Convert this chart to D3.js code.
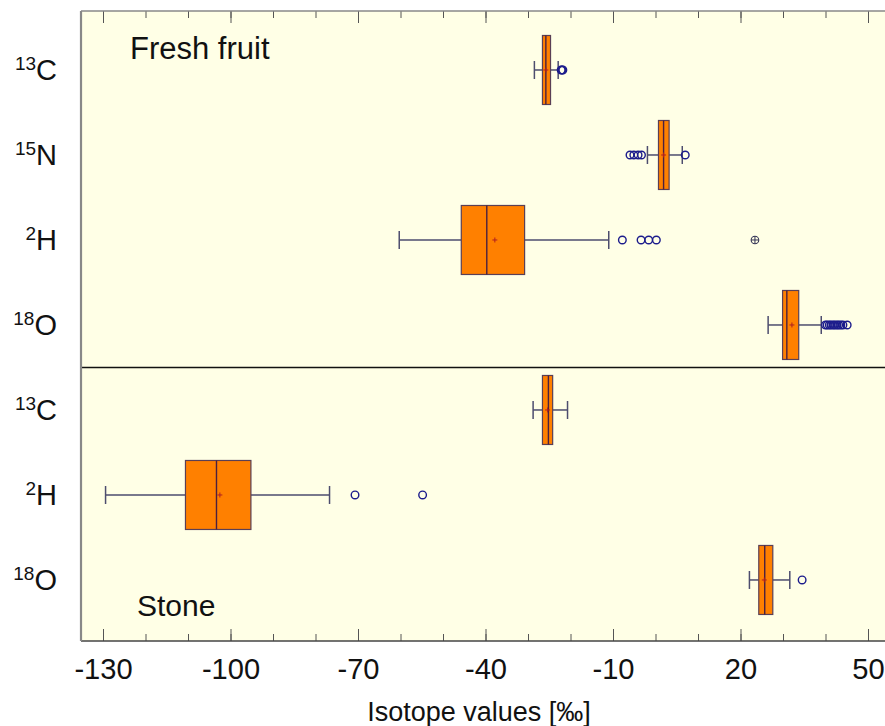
<!DOCTYPE html>
<html><head><meta charset="utf-8">
<script src="https://cdn.jsdelivr.net/npm/d3@7"></script>
<style>
html,body{margin:0;padding:0;background:#fff;}
svg{display:block;font-family:"Liberation Sans",Arial,sans-serif;}
</style></head>
<body>
<svg id="chart" width="885" height="726"></svg>
<script>
// ---- data ----
const rowSup   = ["13","15","2","18","13","2","18"];
const rowMain  = ["C","N","H","O","C","H","O"];
const whiskerLow  = [-28.5, -1.9, -60.3, 26.5, -28.8, -129.4, 22.1];
const q1          = [-26.6,  0.7, -45.7, 29.9, -26.6, -110.6, 24.3];
const median      = [-25.8,  1.9, -39.7, 30.9, -25.2, -103.3, 25.7];
const q3          = [-24.7,  3.2, -30.8, 33.7, -24.2,  -95.2, 27.6];
const whiskerHigh = [-22.9,  6.3, -11.0, 39.0, -20.7,  -76.7, 31.6];
const means       = [-25.8,  1.9, -37.8, 32.1, -25.4, -102.5, 25.6];
const outliers = [
  [-22.2, -22.0, -21.8],
  [-6.0, -5.1, -4.1, -3.3, 7.0],
  [-7.8, -3.4, -1.6, 0.2],
  [40.0, 40.4, 40.9, 41.3, 41.8, 42.2, 42.7, 43.1, 43.6, 44.1, 45.1],
  [],
  [-70.7, -54.8],
  [34.5]
];
const extremes = [[], [], [23.4], [], [], [], []];
const xTicks = [-130, -100, -70, -40, -10, 20, 50];
const xMinorTicks = [-130,-120,-110,-100,-90,-80,-70,-60,-50,-40,-30,-20,-10,0,10,20,30,40,50];
const sectionLabels = ["Fresh fruit", "Stone"];
const xTitle = "Isotope values [‰]";

// ---- layout ----
const L = 81, R = 885, T = 11, B = 641;
const svg = d3.select("#chart");
const x = d3.scaleLinear().domain([-135.18, 54.0]).range([L, R]);
const y = d3.scaleLinear().domain([-0.694, 6.718]).range([T, B]);
const boxH = 69, capH = 18;

svg.append("rect").attr("x", L).attr("y", T).attr("width", R - L).attr("height", B - T)
  .attr("fill", "#ffffe6");

// divider between sections
svg.append("line").attr("x1", L).attr("x2", R).attr("y1", y(3.5)).attr("y2", y(3.5))
  .attr("stroke", "#111").attr("stroke-width", 1.5);

// axes
const minorB = svg.append("g").attr("transform", `translate(0,${B})`)
  .call(d3.axisBottom(x).tickValues(xMinorTicks).tickSize(-7).tickFormat(""));
const majorB = svg.append("g").attr("transform", `translate(0,${B})`)
  .call(d3.axisBottom(x).tickValues(xTicks).tickSize(-12).tickPadding(16).tickFormat(d3.format("d")));
const minorT = svg.append("g").attr("transform", `translate(0,${T})`)
  .call(d3.axisTop(x).tickValues(xMinorTicks).tickSize(-7).tickFormat(""));
const majorT = svg.append("g").attr("transform", `translate(0,${T})`)
  .call(d3.axisTop(x).tickValues(xTicks).tickSize(-12).tickFormat(""));
[minorB, majorB, minorT, majorT].forEach(g => {
  g.select(".domain").remove();
  g.selectAll(".tick line").attr("stroke", "#555").attr("stroke-width", 1);
});
majorB.selectAll(".tick text").attr("font-size", 28).attr("fill", "#111")
  .attr("font-family", "'Liberation Sans', Arial, sans-serif")
  .attr("transform", "scale(1.04,1.05)")
  .text(d => d < 0 ? "-" + Math.abs(d) : d);

// borders
svg.append("line").attr("x1", L).attr("x2", R).attr("y1", B).attr("y2", B)
  .attr("stroke", "#444").attr("stroke-width", 1.5);
svg.append("line").attr("x1", L).attr("x2", R).attr("y1", T).attr("y2", T)
  .attr("stroke", "#888").attr("stroke-width", 1.5);
svg.append("line").attr("x1", L).attr("x2", L).attr("y1", T).attr("y2", B)
  .attr("stroke", "#888").attr("stroke-width", 2.2);

// boxes
const idx = d3.range(rowMain.length);
const g = svg.append("g");
idx.forEach(i => {
  const cy = y(i);
  const wc = "#4d4d6e";
  g.append("line").attr("x1", x(whiskerLow[i])).attr("x2", x(q1[i])).attr("y1", cy).attr("y2", cy)
    .attr("stroke", wc).attr("stroke-width", 1.5);
  g.append("line").attr("x1", x(q3[i])).attr("x2", x(whiskerHigh[i])).attr("y1", cy).attr("y2", cy)
    .attr("stroke", wc).attr("stroke-width", 1.5);
  [whiskerLow[i], whiskerHigh[i]].forEach(v => {
    g.append("line").attr("x1", x(v)).attr("x2", x(v)).attr("y1", cy - capH / 2).attr("y2", cy + capH / 2)
      .attr("stroke", wc).attr("stroke-width", 1.5);
  });
  g.append("rect").attr("x", x(q1[i])).attr("y", cy - boxH / 2)
    .attr("width", x(q3[i]) - x(q1[i])).attr("height", boxH)
    .attr("fill", "#ff8000").attr("stroke", "#5a3f55").attr("stroke-width", 1.2);
  g.append("line").attr("x1", x(median[i])).attr("x2", x(median[i]))
    .attr("y1", cy - boxH / 2).attr("y2", cy + boxH / 2)
    .attr("stroke", "#4a2040").attr("stroke-width", 1.4);
  const mx = x(means[i]);
  g.append("path").attr("d", `M${mx - 2.5},${cy}H${mx + 2.5}M${mx},${cy - 2.5}V${cy + 2.5}`)
    .attr("stroke", "#b02020").attr("stroke-width", 1);
  outliers[i].forEach(v => {
    g.append("circle").attr("cx", x(v)).attr("cy", cy).attr("r", 3.8)
      .attr("fill", "none").attr("stroke", "#1c1c8c").attr("stroke-width", 1.4);
  });
  extremes[i].forEach(v => {
    const ex = x(v);
    g.append("circle").attr("cx", ex).attr("cy", cy).attr("r", 3.8)
      .attr("fill", "none").attr("stroke", "#333355").attr("stroke-width", 1.1);
    g.append("path").attr("d", `M${ex - 3.8},${cy}H${ex + 3.8}M${ex},${cy - 3.8}V${cy + 3.8}`)
      .attr("stroke", "#333355").attr("stroke-width", 1);
  });
});

// row labels
idx.forEach(i => {
  const t = svg.append("text").attr("x", 57).attr("y", y(i) + 10)
    .attr("text-anchor", "end").attr("fill", "#111");
  t.append("tspan").attr("font-size", 19).attr("dy", -10).text(rowSup[i]);
  t.append("tspan").attr("font-size", 29).attr("dy", 10).text(rowMain[i]);
});

// section labels
svg.append("text").attr("x", 130).attr("y", 59).attr("font-size", 31).attr("fill", "#111").text(sectionLabels[0]);
svg.append("text").attr("x", 137).attr("y", 616).attr("font-size", 30).attr("fill", "#111").text(sectionLabels[1]);

// axis title
svg.append("text").attr("x", 479).attr("y", 721).attr("text-anchor", "middle")
  .attr("font-size", 27).attr("fill", "#111").text(xTitle);
</script>
</body></html>
